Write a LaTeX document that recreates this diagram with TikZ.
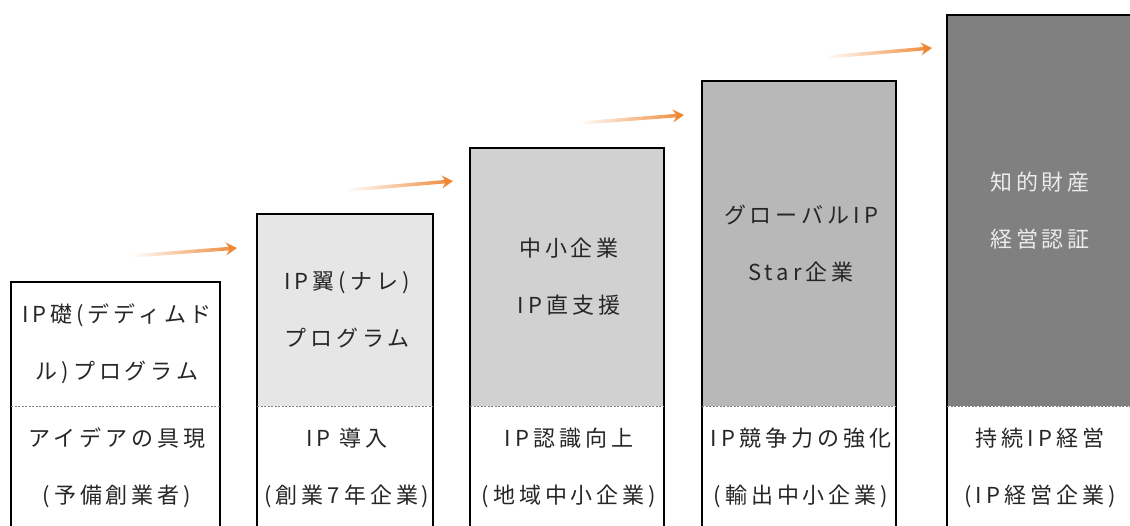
\documentclass[tikz,border=0pt]{standalone}
\usepackage{fontspec}
\setmainfont{Noto Sans CJK JP}[LetterSpace=18]
\usetikzlibrary{arrows.meta, fadings}
\definecolor{stepGrayA}{HTML}{E6E6E6}
\definecolor{stepGrayB}{HTML}{D1D1D1}
\definecolor{stepGrayC}{HTML}{B8B8B8}
\definecolor{stepGrayD}{HTML}{808080}
\definecolor{riseOrange}{HTML}{EE8530}

\begin{document}
\begin{tikzpicture}[
    x=1pt, y=-1pt,
    stage/.style={draw=black, line width=1.2pt},
    divider/.style={draw=gray, line width=0.8pt, dash pattern=on 2pt off 1.5pt},
    stagetext/.style={align=center, font=\fontsize{22}{57}\selectfont, text=black!85},
    rise/.style={draw=riseOrange, line width=3.5pt, -{Stealth[length=11pt,width=13pt]}, path fading=west}
]
    \useasboundingbox (0,0) rectangle (1130,525);

    % step 1
    \draw[stage] (11,535) -- (11,282) -- (220,282) -- (220,535);
    \draw[divider] (11,406) -- (220,406);
    \node[stagetext] (s1top) at (117,344) {IP礎(デディムド\\ル)プログラム};
    \node[stagetext] (s1bot) at (117,468) {アイデアの具現\\(予備創業者)};

    % step 2
    \fill[stepGrayA] (257,214) rectangle (433,406);
    \draw[stage] (257,535) -- (257,214) -- (433,214) -- (433,535);
    \draw[divider] (257,406) -- (433,406);
    \node[stagetext] (s2top) at (347,310) {IP翼(ナレ)\\プログラム};
    \node[stagetext] (s2bot) at (347,468) {IP 導入\\(創業7年企業)};

    % step 3
    \fill[stepGrayB] (470,148) rectangle (664,406);
    \draw[stage] (470,535) -- (470,148) -- (664,148) -- (664,535);
    \draw[divider] (470,406) -- (664,406);
    \node[stagetext] (s3top) at (569,277) {中小企業\\IP直支援};
    \node[stagetext] (s3bot) at (569,468) {IP認識向上\\(地域中小企業)};

    % step 4
    \fill[stepGrayC] (702,81) rectangle (896,406);
    \draw[stage] (702,535) -- (702,81) -- (896,81) -- (896,535);
    \draw[divider] (702,406) -- (896,406);
    \node[stagetext] (s4top) at (801,244) {グローバルIP\\Star企業};
    \node[stagetext] (s4bot) at (801,468) {IP競争力の強化\\(輸出中小企業)};

    % step 5
    \fill[stepGrayD] (947,15) rectangle (1140,406);
    \draw[stage] (947,535) -- (947,15) -- (1140,15);
    \draw[divider] (947,406) -- (1140,406);
    \node[stagetext, text=white!92!black] (s5top) at (1040,211) {知的財産\\経営認証};
    \node[stagetext] (s5bot) at (1040,468) {持続IP経営\\(IP経営企業)};

    % arrows between steps
    \coordinate (r1a) at (132,256);
    \coordinate (r1b) at (237,248);
    \coordinate (r2a) at (348,190);
    \coordinate (r2b) at (453,181);
    \coordinate (r3a) at (581,123);
    \coordinate (r3b) at (684,115);
    \coordinate (r4a) at (827,57);
    \coordinate (r4b) at (932,48);
    \draw[rise] (r1a) -- (r1b);
    \draw[rise] (r2a) -- (r2b);
    \draw[rise] (r3a) -- (r3b);
    \draw[rise] (r4a) -- (r4b);
\end{tikzpicture}
\end{document}
